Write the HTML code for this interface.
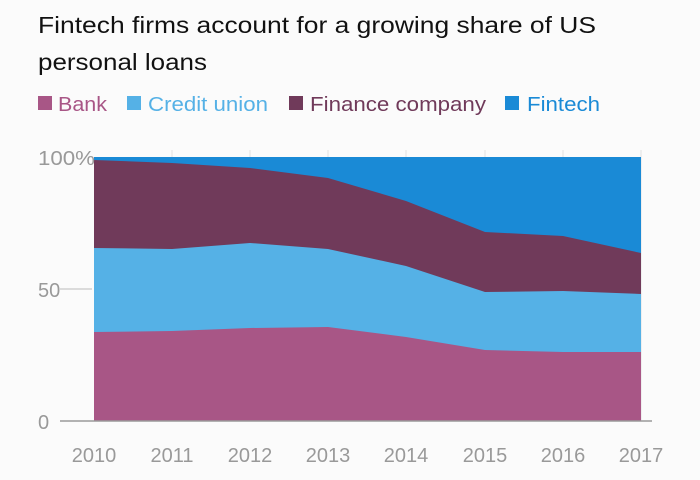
<!DOCTYPE html>
<html><head><style>
body{margin:0;background:#fbfbfb;}
svg{display:block;font-family:"Liberation Sans",sans-serif;}
</style></head><body>
<svg width="700" height="480" viewBox="0 0 700 480">
<rect width="700" height="480" fill="#fbfbfb"/>
<text x="38" y="33" font-size="23" fill="#111" textLength="558" lengthAdjust="spacingAndGlyphs">Fintech firms account for a growing share of US</text>
<text x="38" y="70" font-size="23" fill="#111" textLength="169" lengthAdjust="spacingAndGlyphs">personal loans</text>
<g font-size="20">
<rect x="38" y="96" width="14" height="14" fill="#a85686"/><text x="58" y="111" fill="#a85686" textLength="49" lengthAdjust="spacingAndGlyphs">Bank</text>
<rect x="127" y="96" width="14" height="14" fill="#55b1e6"/><text x="148" y="111" fill="#55b1e6" textLength="120" lengthAdjust="spacingAndGlyphs">Credit union</text>
<rect x="289" y="96" width="14" height="14" fill="#703a5a"/><text x="310" y="111" fill="#703a5a" textLength="176" lengthAdjust="spacingAndGlyphs">Finance company</text>
<rect x="505" y="96" width="14" height="14" fill="#1a8ad6"/><text x="527" y="111" fill="#1a8ad6" textLength="73" lengthAdjust="spacingAndGlyphs">Fintech</text>
</g>
<g stroke="#e2e2e2" stroke-width="1">
<line x1="172" y1="150" x2="172" y2="421"/><line x1="250" y1="150" x2="250" y2="421"/>
<line x1="328" y1="150" x2="328" y2="421"/><line x1="406" y1="150" x2="406" y2="421"/>
<line x1="485" y1="150" x2="485" y2="421"/><line x1="563" y1="150" x2="563" y2="421"/>
<line x1="641" y1="150" x2="641" y2="421"/>
</g>
<polygon fill="#1a8ad6" points="94,157 641,157 641,421 94,421"/>
<polygon fill="#703a5a" points="94,160 172,163 250,168 328,178 406,201 485,232 563,236 641,253 641,421 94,421"/>
<polygon fill="#55b1e6" points="94,248 172,249 250,243 328,249 406,266 485,292 563,291 641,294 641,421 94,421"/>
<polygon fill="#a85686" points="94,332 172,331 250,328 328,327 406,337 485,350 563,352 641,352 641,421 94,421"/>
<rect x="60" y="150" width="33" height="32" fill="#fbfbfb"/>
<line x1="60" y1="421" x2="652" y2="421" stroke="#999" stroke-width="1.5"/>
<line x1="60" y1="289" x2="92" y2="289" stroke="#bbb" stroke-width="1"/>
<g font-size="20" fill="#999">
<text x="38" y="165" textLength="57" lengthAdjust="spacingAndGlyphs">100%</text>
<text x="38" y="297">50</text>
<text x="38" y="429">0</text>
</g>
<g font-size="20" fill="#999" text-anchor="middle">
<text x="94" y="462">2010</text><text x="172" y="462">2011</text><text x="250" y="462">2012</text>
<text x="328" y="462">2013</text><text x="406" y="462">2014</text><text x="485" y="462">2015</text>
<text x="563" y="462">2016</text><text x="641" y="462">2017</text>
</g>
</svg>
</body></html>
